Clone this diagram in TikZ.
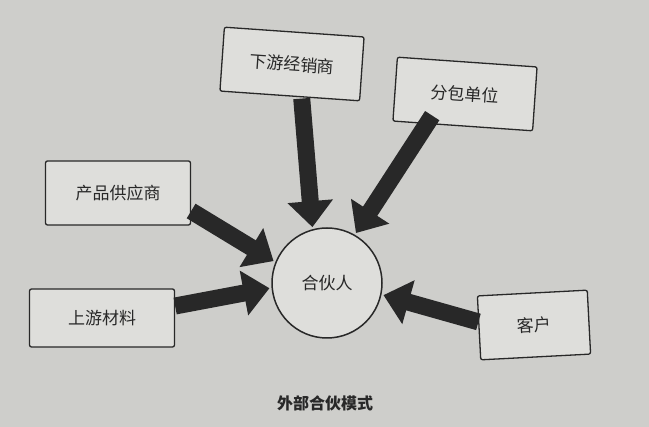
\documentclass[tikz,border=0pt]{standalone}
\usepackage{fontspec}
\setmainfont{Noto Sans CJK SC}
\usetikzlibrary{arrows.meta}
\definecolor{bg}{RGB}{206,206,203}
\definecolor{boxfill}{RGB}{222,222,219}
\definecolor{ink}{RGB}{40,40,40}
\tikzset{
  partner/.style={draw=ink,line width=1.3pt,fill=boxfill,rounded corners=2pt,minimum width=140pt,minimum height=64pt,font=\fontsize{17pt}{20pt}\selectfont,text=ink},
  bigarrow/.style={draw=ink,line width=17pt,-{Triangle[length=26pt,width=44pt]},shorten >=2pt}
}
\begin{document}
\begin{tikzpicture}[x=1pt,y=-1pt]
\fill[bg] (0,0) rectangle (649,427);
\useasboundingbox (0,0) rectangle (649,427);
\node[draw=ink,line width=1.5pt,circle,minimum size=110pt,fill=boxfill,font=\fontsize{17pt}{20pt}\selectfont,text=ink] (c) at (327,283) {合伙人};
\node[partner,rotate=-4] (a) at (292,64) {下游经销商};
\node[partner,rotate=-4] (b) at (465,94) {分包单位};
\node[partner,minimum width=145pt] (d) at (118,193) {产品供应商};
\node[partner,minimum width=145pt,minimum height=58pt] (e) at (102,318) {上游材料};
\node[partner,minimum width=110pt,minimum height=64pt,rotate=3] (f) at (534,325) {客户};
\draw[bigarrow] (a.south) ++(12,2) -- (c.105);
\draw[bigarrow] (b.south west) ++(40,-6) -- (c.60);
\draw[bigarrow] (d.east) ++(0,18) -- (c.158);
\draw[bigarrow] (e.east) ++(0,-12) -- (c.185);
\draw[bigarrow] (f.west) ++(0,-6) -- (c.-12);
\node[font=\bfseries\fontsize{16pt}{19pt}\selectfont,text=ink] (cap) at (325,403) {外部合伙模式};
\end{tikzpicture}
\end{document}
